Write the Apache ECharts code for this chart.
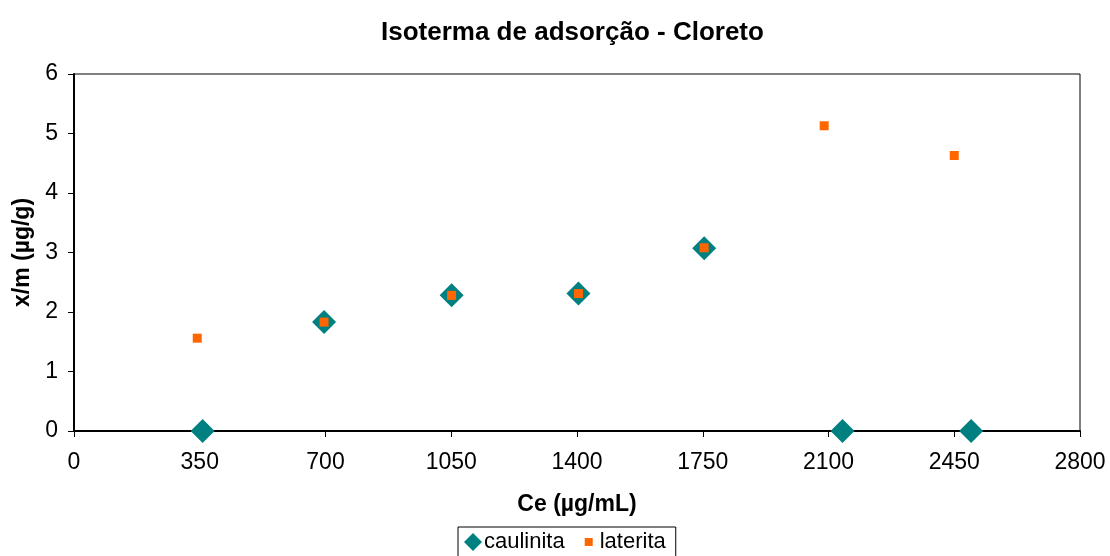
<!DOCTYPE html>
<html>
<head>
<meta charset="utf-8">
<script src="https://cdn.jsdelivr.net/npm/echarts@6/dist/echarts.min.js"></script>
<style>html,body{margin:0;padding:0;background:#fff}#c{width:1110px;height:556px}</style>
</head>
<body>
<div id="c"></div>
<script>
const titleText = 'Isoterma de adsorção - Cloreto';
const xName = 'Ce (µg/mL)';
const yName = 'x/m (µg/g)';
const caulinitaX = [358, 696, 1051, 1404, 1754, 2139, 2497];
const caulinitaY = [0, 1.83, 2.28, 2.31, 3.07, 0, 0];
const lateritaX = [343, 696, 1051, 1404, 1754, 2088, 2450];
const lateritaY = [1.56, 1.83, 2.28, 2.31, 3.08, 5.13, 4.63];
const seriesNames = ['caulinita', 'laterita'];

const font = 'Arial, "Liberation Sans", sans-serif';
const chart = echarts.init(document.getElementById('c'));
chart.setOption({
  animation: false,
  backgroundColor: '#fff',
  title: {
    text: titleText, left: 376, top: 15,
    textStyle: { fontFamily: font, fontSize: 26, fontWeight: 'bold', color: '#000' }
  },
  legend: {
    data: [
      { name: seriesNames[0], icon: 'diamond' },
      { name: seriesNames[1], icon: 'path://M0,0 M18,18 M5,5 L13,5 L13,13 L5,13 Z' }
    ],
    left: 458, top: 527,
    itemWidth: 18, itemHeight: 18, itemGap: 15,
    padding: [4, 10, 6, 6],
    borderColor: '#000', borderWidth: 1, borderRadius: 0,
    textStyle: { fontFamily: font, fontSize: 22, color: '#000', padding: [0, 0, 0, -3] }
  },
  grid: {
    left: 74, right: 30, top: 74, bottom: 125,
    show: true, borderColor: '#000', borderWidth: 1
  },
  xAxis: {
    type: 'value', min: 0, max: 2800, interval: 350,
    name: xName, nameLocation: 'middle', nameGap: 62,
    nameTextStyle: { fontFamily: font, fontSize: 23, fontWeight: 'bold', color: '#000' },
    axisLine: { show: true, onZero: false, lineStyle: { color: '#000', width: 2 } },
    axisTick: { show: true, length: 6, lineStyle: { color: '#000' } },
    axisLabel: { fontFamily: font, fontSize: 23, color: '#000', margin: 20, formatter: v => String(v) },
    splitLine: { show: false }
  },
  yAxis: {
    type: 'value', min: 0, max: 6, interval: 1,
    name: yName, nameLocation: 'middle', nameGap: 40, nameRotate: 90,
    nameTextStyle: { fontFamily: font, fontSize: 23, fontWeight: 'bold', color: '#000' },
    axisLine: { show: true, lineStyle: { color: '#000', width: 2 } },
    axisTick: { show: true, length: 6, lineStyle: { color: '#000' } },
    axisLabel: { fontFamily: font, fontSize: 23, color: '#000', margin: 16 },
    splitLine: { show: false }
  },
  series: [
    {
      name: seriesNames[0], type: 'scatter', symbol: 'diamond', symbolSize: 24,
      itemStyle: { color: '#008080', opacity: 1 },
      data: caulinitaX.map((x, i) => [x, caulinitaY[i]]), z: 2
    },
    {
      name: seriesNames[1], type: 'scatter', symbol: 'rect', symbolSize: 9,
      itemStyle: { color: '#FF6600', opacity: 1 },
      data: lateritaX.map((x, i) => [x, lateritaY[i]]), z: 3
    }
  ]
});
</script>
</body>
</html>
